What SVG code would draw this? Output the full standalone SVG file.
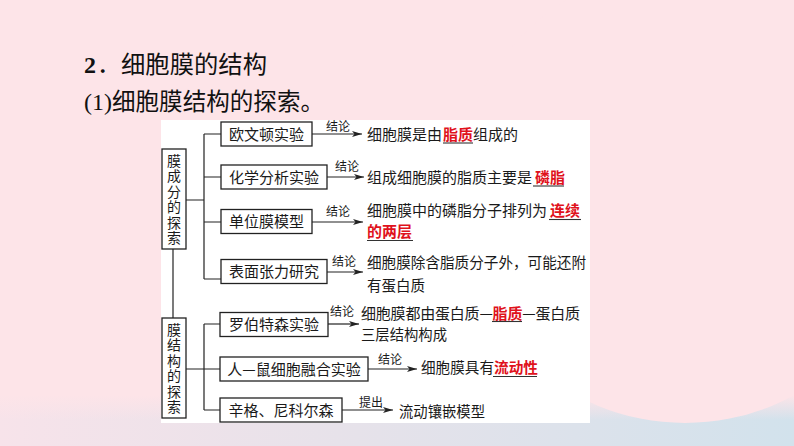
<svg xmlns="http://www.w3.org/2000/svg" width="794" height="446" viewBox="0 0 794 446">
<defs>
<linearGradient id="bandGrad" x1="0" y1="0" x2="1" y2="0">
<stop offset="0" stop-color="#f7e3ea"/>
<stop offset="0.45" stop-color="#e6e2ea"/>
<stop offset="1" stop-color="#d2e2ec"/>
</linearGradient>
<linearGradient id="fadeGrad" x1="0" y1="0" x2="0" y2="1">
<stop offset="0" stop-color="#fde4e8" stop-opacity="1"/>
<stop offset="1" stop-color="#fde4e8" stop-opacity="0"/>
</linearGradient>
<marker id="arr" viewBox="0 0 10 6" refX="10" refY="3" markerWidth="10" markerHeight="6" markerUnits="userSpaceOnUse" orient="auto">
<path d="M0,0 L10,3 L0,6 L2.5,3 Z" fill="#222"/>
</marker>
<style>
.box{fill:#fff;stroke:#222;stroke-width:1.3}
.ln{fill:none;stroke:#222;stroke-width:1.2}
.ar{fill:none;stroke:#222;stroke-width:1.2;marker-end:url(#arr)}
.t{font-family:"Noto Sans CJK SC","Noto Sans",sans-serif;font-size:15px;fill:#1a1a1a}
.bt{font-family:"Noto Sans CJK SC","Noto Sans",sans-serif;font-size:15px;fill:#1a1a1a;text-anchor:middle}
.vt{font-family:"Noto Sans CJK SC","Noto Sans",sans-serif;font-size:14px;fill:#1a1a1a;text-anchor:middle;writing-mode:vertical-rl;letter-spacing:1.5px}
.lb{font-family:"Noto Sans CJK SC","Noto Sans",sans-serif;font-size:12px;fill:#1a1a1a;text-anchor:middle}
.r{font-family:"Noto Sans CJK SC","Noto Sans",sans-serif;font-size:15px;fill:#e0121c;font-weight:bold}
.rs{fill:#e0121c;font-weight:bold}
.ul{stroke:#333;stroke-width:1.1}
.h{font-family:"Noto Sans CJK SC","Noto Sans",sans-serif;fill:#111}
.hs{font-family:"Liberation Serif","Times New Roman",serif;fill:#111}
</style>
</defs>

<!-- background -->
<rect x="0" y="0" width="794" height="446" fill="#fde4e8"/>
<rect x="0" y="395" width="794" height="51" fill="url(#bandGrad)"/>
<rect x="0" y="395" width="794" height="25" fill="url(#fadeGrad)"/>
<circle cx="685" cy="195" r="228" fill="#fde4e8"/>

<!-- title -->
<g id="title">
<text class="hs" x="84" y="73" font-size="24" font-weight="bold">2</text>
<text class="h" x="97" y="73" font-size="24">．</text>
<text class="h" x="121" y="73" font-size="24" textLength="146" lengthAdjust="spacingAndGlyphs">细胞膜的结构</text>
<text class="hs" x="84" y="110" font-size="24">(1)</text>
<text class="h" x="112" y="110" font-size="23.5" textLength="212" lengthAdjust="spacingAndGlyphs">细胞膜结构的探索。</text>
</g>

<!-- white panel -->
<rect x="161" y="120" width="429" height="303" fill="#ffffff"/>

<!-- connectors -->
<g id="connectors">
<path class="ln" d="M173,249 V318"/>
<path class="ln" d="M186,200 H204 M204,134 V279 M204,134 H221 M204,177 H221 M204,222 H221 M204,279 H221"/>
<path class="ln" d="M186,369 H220 M204,324 V410 M204,324 H220 M204,410 H220"/>
<path class="ar" d="M312,134 H362"/>
<path class="ar" d="M327,177 H364"/>
<path class="ar" d="M312,222 H363"/>
<path class="ar" d="M327,272 H363"/>
<path class="ar" d="M328,324 H359"/>
<path class="ar" d="M368,369 H417"/>
<path class="ar" d="M342,410 H393"/>
<text class="lb" x="338" y="131">结论</text>
<text class="lb" x="347" y="171">结论</text>
<text class="lb" x="338" y="216">结论</text>
<text class="lb" x="344" y="266">结论</text>
<text class="lb" x="342" y="316">结论</text>
<text class="lb" x="390" y="364">结论</text>
<text class="lb" x="371" y="407">提出</text>
</g>

<!-- left group nodes -->
<g id="node-composition">
<rect class="box" x="162" y="149" width="24" height="100"/>
<text class="vt" x="174" y="200">膜成分的探索</text>
</g>
<g id="node-structure">
<rect class="box" x="162" y="318" width="24" height="100"/>
<text class="vt" x="174" y="369">膜结构的探索</text>
</g>

<!-- experiment nodes -->
<g id="node-overton">
<rect class="box" x="221" y="122" width="91" height="24"/>
<text class="bt" x="266.5" y="139.5">欧文顿实验</text>
</g>
<g id="node-chem">
<rect class="box" x="221" y="165" width="106" height="24"/>
<text class="bt" x="274" y="182.5">化学分析实验</text>
</g>
<g id="node-unit">
<rect class="box" x="221" y="209.5" width="91" height="24"/>
<text class="bt" x="266.5" y="227">单位膜模型</text>
</g>
<g id="node-surface">
<rect class="box" x="221" y="259.5" width="106" height="24"/>
<text class="bt" x="274" y="277">表面张力研究</text>
</g>
<g id="node-robertson">
<rect class="box" x="220" y="312.5" width="108" height="24"/>
<text class="bt" x="274" y="330">罗伯特森实验</text>
</g>
<g id="node-fusion">
<rect class="box" x="220" y="357" width="148" height="24"/>
<text class="bt" x="294" y="374.5">人—鼠细胞融合实验</text>
</g>
<g id="node-singer">
<rect class="box" x="220" y="398" width="122" height="24"/>
<text class="bt" x="281" y="415.5">辛格、尼科尔森</text>
</g>

<!-- conclusions -->
<g id="node-c1">
<text class="t" x="367" y="139.5">细胞膜是由</text>
<text class="r" x="443" y="139.5">脂质</text>
<text class="t" x="473" y="139.5">组成的</text>
<line class="ul" x1="443" y1="143" x2="473" y2="143"/>
</g>
<g id="node-c2">
<text class="t" x="367" y="182.5">组成细胞膜的脂质主要是</text>
<text class="r" x="535" y="182.5">磷脂</text>
<line class="ul" x1="533" y1="186" x2="564" y2="186"/>
</g>
<g id="node-c3">
<text class="t" x="367" y="216" textLength="180" lengthAdjust="spacingAndGlyphs">细胞膜中的磷脂分子排列为</text>
<text class="r" x="550" y="216">连续</text>
<line class="ul" x1="549" y1="219.5" x2="581" y2="219.5"/>
<text class="r" x="367" y="237">的两层</text>
<line class="ul" x1="367" y1="240.5" x2="413" y2="240.5"/>
</g>
<g id="node-c4">
<text class="t" x="367" y="267.5" textLength="219" lengthAdjust="spacingAndGlyphs">细胞膜除含脂质分子外，可能还附</text>
<text class="t" x="367" y="290.5" textLength="58" lengthAdjust="spacingAndGlyphs">有蛋白质</text>
</g>
<g id="node-c5">
<text class="t" x="361" y="318.5" font-size="14.6" textLength="219" lengthAdjust="spacing">细胞膜都由蛋白质—<tspan class="rs">脂质</tspan>—蛋白质</text>
<line class="ul" x1="492" y1="321.5" x2="522" y2="321.5"/>
<text class="t" x="361" y="339.5" textLength="86" lengthAdjust="spacingAndGlyphs">三层结构构成</text>
</g>
<g id="node-c6">
<text class="t" x="421" y="373" textLength="73" lengthAdjust="spacingAndGlyphs">细胞膜具有</text>
<text class="r" x="494" y="373" textLength="44" lengthAdjust="spacingAndGlyphs">流动性</text>
<line class="ul" x1="493" y1="376.5" x2="537" y2="376.5"/>
</g>
<g id="node-c7">
<text class="t" x="399" y="416.5" textLength="86" lengthAdjust="spacingAndGlyphs">流动镶嵌模型</text>
</g>
</svg>
